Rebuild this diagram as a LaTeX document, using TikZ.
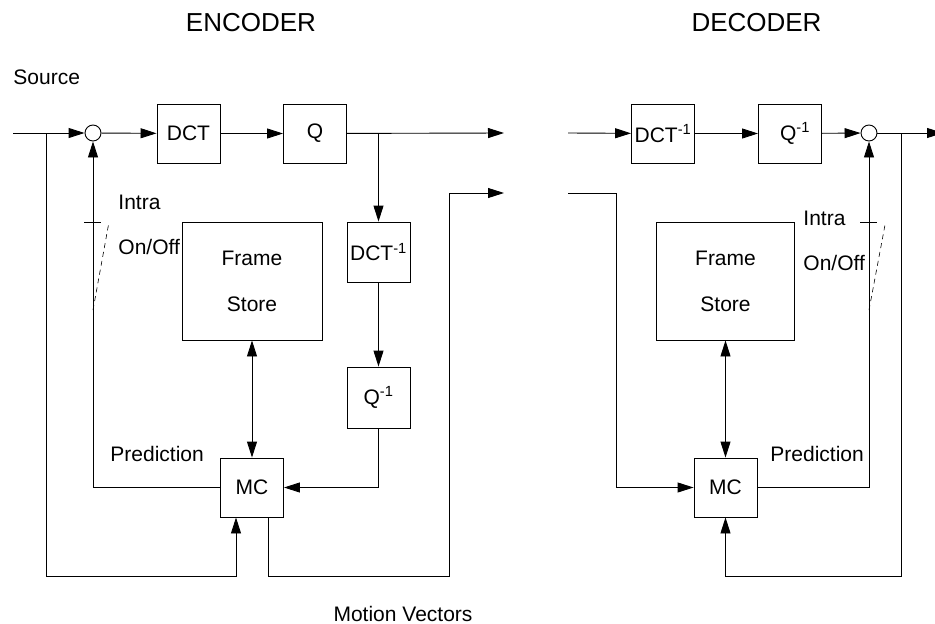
\documentclass[tikz,border=0pt]{standalone}
\usepackage{fontspec}
\setmainfont{Liberation Sans}
\usetikzlibrary{arrows.meta,positioning}
\begin{document}
\begin{tikzpicture}[x=1pt,y=-1pt,line width=0.9pt,font=\fontsize{21}{25}\selectfont,
  >={Triangle[length=16pt,width=10pt]},
  blk/.style={draw,minimum width=63pt,minimum height=59pt,inner sep=0pt},
  store/.style={blk,align=center,font=\fontsize{21}{46}\selectfont,minimum height=118pt},
  sum/.style={draw,circle,minimum size=16pt,inner sep=0pt},
  ttl/.style={font=\fontsize{26}{30}\selectfont,anchor=base},
  lab/.style={anchor=base west,inner sep=0pt}]
\useasboundingbox (0,0) rectangle (935,624);
% encoder
\node[ttl] (encT) at (251,31) {ENCODER};
\node[lab] (srcL) at (13,84) {Source};
\coordinate (srcIn) at (13,133);
\node[sum] (sumE) at (93,133) {};
\node[blk] (dctE) at (188.5,133.5) {DCT};
\node[blk] (qE) at (315,133.5) {Q};
\coordinate (outE) at (504,133);
\node[blk,minimum height=60pt] (idctE) at (378.5,252) {DCT\textsuperscript{-1}};
\node[blk,minimum height=61pt] (iqE) at (378.5,397.5) {Q\textsuperscript{-1}};
\node[store,minimum width=140pt] (fsE) at (252,281) {Frame\\Store};
\node[blk] (mcE) at (252,487.5) {MC};
\coordinate (brE) at (46,133);
\coordinate (botE) at (46,576);
\coordinate (mvTurn) at (449,576);
\coordinate (mvOut) at (504,193);
\draw[->] (srcIn) -- (sumE);
\draw[->] (sumE) -- (dctE);
\draw[->] (dctE) -- (qE);
\draw[->] (qE) -- (outE);
\draw[->] (idctE |- qE.east) -- (idctE);
\draw[->] (idctE) -- (iqE);
\draw[->] (iqE) |- (mcE);
\draw[<->] (fsE) -- (mcE);
\draw[->] (mcE) -| (sumE);
\draw[->] (brE) -- (botE) -| ([xshift=-16pt]mcE.south);
\draw[->] ([xshift=16pt]mcE.south) |- (mvTurn) |- (mvOut);
\node[lab] (intraE) at (118,209) {Intra};
\node[lab] (onoffE) at (118,254) {On/Off};
\node[lab] (predE) at (110,461) {Prediction};
\node[anchor=base] (mvL) at (403,621) {Motion Vectors};
% decoder
\node[ttl] (decT) at (756.5,31) {DECODER};
\coordinate (inD) at (568,133);
\node[blk] (idctD) at (663,133.5) {DCT\textsuperscript{-1}};
\node[blk] (iqD) at (790,133.5) {\hspace{10pt}Q\textsuperscript{-1}};
\node[sum] (sumD) at (869,133) {};
\coordinate (outD) at (943,133);
\node[store,minimum width=138pt] (fsD) at (725.5,281) {Frame\\Store};
\node[blk] (mcD) at (725.5,487.5) {MC};
\coordinate (mvIn) at (568,193);
\coordinate (mvTurnD) at (616,193);
\coordinate (brD) at (901,133);
\coordinate (botD) at (901,576);
\draw[->] (inD) -- (idctD);
\draw[->] (idctD) -- (iqD);
\draw[->] (iqD) -- (sumD);
\draw[->] (sumD) -- (outD);
\draw[->] (mvIn) -- (mvTurnD) |- (mcD);
\draw[<->] (fsD) -- (mcD);
\draw[->] (mcD) -| (sumD);
\draw[->] (brD) -- (botD) -| (mcD.south);
\node[lab] (intraD) at (803,225) {Intra};
\node[lab] (onoffD) at (803,270) {On/Off};
\node[lab] (predD) at (770,461) {Prediction};
% intra switches
\foreach \x/\d in {93/222,869/225} {
  \draw (\x-9,222) -- (\x+8,222);
  \draw[dash pattern=on 5pt off 4pt,line width=0.6pt] (\x,310) -- (\x+16,\d);
}
\end{tikzpicture}
\end{document}
